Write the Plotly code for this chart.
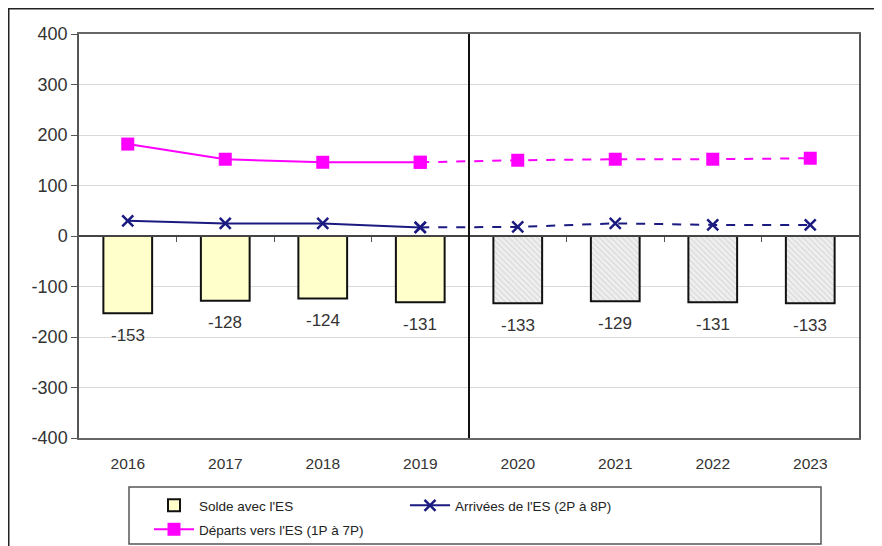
import plotly.graph_objects as go

years = ["2016", "2017", "2018", "2019", "2020", "2021", "2022", "2023"]
solde = [-153, -128, -124, -131, -133, -129, -131, -133]
arrivees = [30, 25, 25, 17, 18, 25, 22, 22]
departs = [182, 152, 146, 146, 150, 152, 152, 154]
n_obs = 4  # first 4 years observed, then projections

y_ticks = [400, 300, 200, 100, 0, -100, -200, -300, -400]

FONT = "Liberation Sans, Arial, sans-serif"
TXT = "#333333"

# page body has an 8px margin, so the figure is sized to fill the rest
W, H = 874, 538
L, T, PW, PH = 71, 26, 780, 404


def px_x(p):  # page pixel -> paper x
    return (p - 8 - L) / PW


def px_y(p):  # page pixel -> paper y
    return 1 - (p - 8 - T) / PH


fig = go.Figure()

fig.add_trace(go.Bar(
    x=years[:n_obs], y=solde[:n_obs], name="Solde avec l'ES",
    marker=dict(color="#FFFFCC", line=dict(color="#111111", width=2)),
    width=0.5, showlegend=True, legendrank=1, legend="legend",
))
fig.add_trace(go.Bar(
    x=years[n_obs:], y=solde[n_obs:], name="Solde avec l'ES (proj.)",
    marker=dict(color="#eeeeee", line=dict(color="#111111", width=2),
                pattern=dict(shape="\\", fgcolor="#b8b8b8", bgcolor="#efefef",
                             size=4, solidity=0.25)),
    width=0.5, showlegend=False,
))

fig.add_trace(go.Scatter(
    x=years[:n_obs], y=arrivees[:n_obs], mode="lines+markers",
    name="Arrivées de l'ES (2P à 8P)",
    line=dict(color="#1a1a80", width=2),
    marker=dict(symbol="x-thin", size=11, line=dict(color="#1a1a80", width=2.5)),
    legendrank=2, legend="legend",
))
fig.add_trace(go.Scatter(
    x=years[n_obs - 1:], y=arrivees[n_obs - 1:], mode="lines+markers",
    line=dict(color="#1a1a80", width=2, dash="dash"),
    marker=dict(symbol="x-thin", size=11, line=dict(color="#1a1a80", width=2.5)),
    showlegend=False,
))

fig.add_trace(go.Scatter(
    x=years[:n_obs], y=departs[:n_obs], mode="lines+markers",
    name="Départs vers l'ES (1P à 7P)",
    line=dict(color="#ff00ff", width=2),
    marker=dict(symbol="square", size=13, color="#ff00ff"),
    legend="legend2",
))
fig.add_trace(go.Scatter(
    x=years[n_obs - 1:], y=departs[n_obs - 1:], mode="lines+markers",
    line=dict(color="#ff00ff", width=2, dash="dash"),
    marker=dict(symbol="square", size=13, color="#ff00ff"),
    showlegend=False,
))

for i, v in enumerate(solde):
    fig.add_annotation(x=i, y=v, xref="x", yref="y", text=str(v), showarrow=False,
                       yanchor="middle", yshift=-22,
                       font=dict(family=FONT, size=17, color=TXT))

fig.add_trace(go.Scatter(x=[0], y=[0], xaxis="x2", mode="markers",
                         marker=dict(opacity=0), showlegend=False, hoverinfo="skip"))

shapes = [
    dict(type="line", xref="x2", yref="paper", x0=n_obs - 0.5, x1=n_obs - 0.5,
         y0=0, y1=1, line=dict(color="#111111", width=2)),
    dict(type="rect", xref="paper", yref="paper", x0=(0.5 - L) / PW, x1=(W + 5 - L) / PW,
         y0=-(H + 5 - T - PH) / PH, y1=1 + (T - 0.5) / PH,
         line=dict(color="#222222", width=2), layer="below"),
    dict(type="rect", xref="paper", yref="paper", x0=px_x(129), x1=px_x(821),
         y0=px_y(544), y1=px_y(487),
         line=dict(color="#555555", width=1.5)),
]

legend_common = dict(orientation="h", xanchor="left", yanchor="top",
                     entrywidth=201, entrywidthmode="pixels",
                     font=dict(family=FONT, size=13.5, color="#222222"),
                     bgcolor="rgba(0,0,0,0)", tracegroupgap=0, itemwidth=40,
                     traceorder="normal")

fig.update_layout(
    width=W, height=H,
    margin=dict(l=L, r=W - L - PW, t=T, b=H - T - PH, autoexpand=False),
    paper_bgcolor="white", plot_bgcolor="white",
    font=dict(family=FONT, size=15, color=TXT),
    barmode="overlay",
    showlegend=True,
    legend=dict(x=px_x(149), y=px_y(490), **legend_common),
    legend2=dict(x=px_x(149), y=px_y(514), **legend_common),
    xaxis=dict(type="category", categoryorder="array", categoryarray=years,
               range=[-0.5, 7.5], showgrid=False, showline=True, linecolor="#666666",
               linewidth=1.5, mirror=True, ticks="",
               tickfont=dict(family=FONT, size=15.5, color=TXT),
               ticklabelstandoff=11),
    xaxis2=dict(overlaying="x", anchor="free", position=0.5, range=[-0.5, 7.5],
                tickvals=[0.5, 1.5, 2.5, 3.5, 4.5, 5.5, 6.5], ticks="outside",
                ticklen=5, tickcolor="#555555", showticklabels=False, showgrid=False,
                showline=True, linecolor="#444444", linewidth=1.5, zeroline=False),
    yaxis=dict(range=[-400, 400], tickvals=y_ticks, ticktext=[str(t) for t in y_ticks],
               showgrid=True, gridcolor="#d9d9d9", gridwidth=1, zeroline=False,
               showline=True, linecolor="#555555", linewidth=1.5, mirror=True,
               ticks="outside", ticklen=6, tickcolor="#555555",
               tickfont=dict(size=18, color=TXT)),
    shapes=shapes,
)

fig.write_html("out.html")
